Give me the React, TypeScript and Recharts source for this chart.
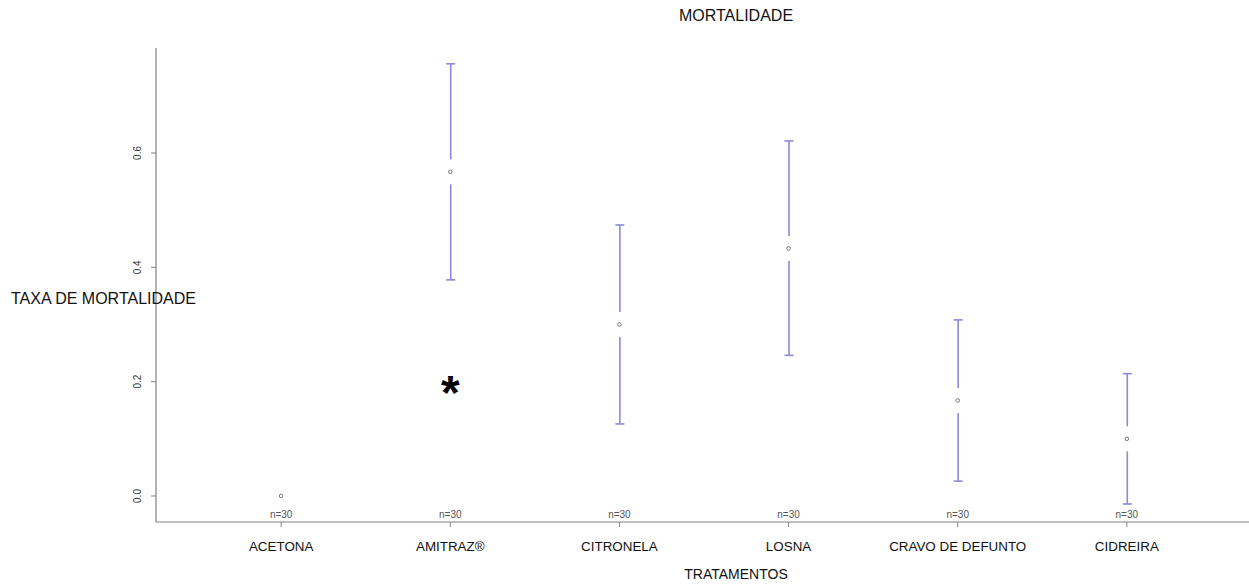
import React from 'react';
import {
  ComposedChart,
  Bar,
  Scatter,
  XAxis,
  YAxis,
  ReferenceDot,
} from 'recharts';

// tratamentos e taxa de mortalidade (média e IC 95%)
const treatments = ['ACETONA', 'AMITRAZ®', 'CITRONELA', 'LOSNA', 'CRAVO DE DEFUNTO', 'CIDREIRA'];
const means = [0, 0.567, 0.3, 0.433, 0.167, 0.1];
const lowerCI = [null, 0.378, 0.126, 0.246, 0.026, -0.014];
const upperCI = [null, 0.756, 0.474, 0.621, 0.308, 0.214];
const sampleSizes = [30, 30, 30, 30, 30, 30];
const yTicks = [0, 0.2, 0.4, 0.6];

const FONT = '"Liberation Sans", Arial, sans-serif';
const CI_COLOR = '#8a8ad8';
const AXIS_COLOR = '#808080';

const data = treatments.map((name, i) => ({
  pos: i + 1,
  name,
  mean: means[i],
  low: lowerCI[i],
  high: upperCI[i],
  n: sampleSizes[i],
  ci: lowerCI[i] == null ? null : [lowerCI[i], upperCI[i]],
}));

function CIShape(props: any) {
  const { x, y, width, height, payload } = props;
  if (!payload || payload.low == null || !height) return null;
  const cx = x + width / 2;
  const top = y;
  const bottom = y + height;
  const my = y + ((payload.high - payload.mean) / (payload.high - payload.low)) * height;
  const gap = 12.5;
  const cap = 4.5;
  return (
    <g stroke={CI_COLOR} strokeWidth={1.6} fill="none">
      <line x1={cx} y1={top} x2={cx} y2={my - gap} />
      <line x1={cx} y1={my + gap} x2={cx} y2={bottom} />
      <line x1={cx - cap} y1={top} x2={cx + cap} y2={top} />
      <line x1={cx - cap} y1={bottom} x2={cx + cap} y2={bottom} />
    </g>
  );
}

function MeanDot(props: any) {
  const { cx, cy } = props;
  return <circle cx={cx} cy={cy} r={1.8} fill="none" stroke="#777" strokeWidth={1} />;
}

function XTick(props: any) {
  const { x, y, payload } = props;
  const i = payload.value - 1;
  return (
    <g>
      <text x={x} y={y - 11} textAnchor="middle" fontSize={10} fill="#555" fontFamily={FONT}>
        n={sampleSizes[i]}
      </text>
      <text x={x} y={y + 22} textAnchor="middle" fontSize={13.4} fill="#111" fontFamily={FONT}>
        {treatments[i]}
      </text>
    </g>
  );
}

function YTick(props: any) {
  const { x, y, payload } = props;
  const tx = x - 6;
  return (
    <text
      x={tx}
      y={y}
      transform={`rotate(-90 ${tx} ${y})`}
      textAnchor="middle"
      fontSize={10}
      fill="#333"
      fontFamily={FONT}
    >
      {payload.value.toFixed(1)}
    </text>
  );
}

export default function App() {
  return (
    <div
      style={{
        position: 'fixed',
        left: 0,
        top: 0,
        width: 1249,
        height: 585,
        overflow: 'hidden',
        background: '#fff',
        fontFamily: FONT,
      }}
    >
      <div style={{ position: 'absolute', left: 0, top: 0 }}>
        <ComposedChart
          width={1300}
          height={585}
          data={data}
          margin={{ top: 48, right: 48, bottom: 0, left: 116 }}
        >
          <XAxis
            xAxisId="top"
            orientation="top"
            dataKey="pos"
            type="number"
            domain={[0.26, 6.74]}
            allowDataOverflow
            height={0}
            tick={false}
            tickLine={false}
            axisLine={{ stroke: '#999', strokeWidth: 1.5 }}
          />
          <XAxis
            dataKey="pos"
            type="number"
            domain={[0.26, 6.74]}
            allowDataOverflow
            ticks={[1, 2, 3, 4, 5, 6]}
            interval={0}
            tick={<XTick />}
            tickSize={5}
            tickMargin={2}
            height={63}
            axisLine={{ stroke: AXIS_COLOR, strokeWidth: 1.2 }}
            tickLine={{ stroke: AXIS_COLOR }}
          />
          <YAxis
            type="number"
            domain={[-0.0455, 0.7836]}
            allowDataOverflow
            ticks={yTicks}
            width={40}
            tick={<YTick />}
            tickSize={5}
            tickMargin={4}
            axisLine={{ stroke: AXIS_COLOR, strokeWidth: 1.2 }}
            tickLine={{ stroke: AXIS_COLOR }}
          />
          <Bar dataKey="ci" barSize={10} shape={<CIShape />} isAnimationActive={false} />
          <Scatter dataKey="mean" shape={<MeanDot />} isAnimationActive={false} />
          <ReferenceDot
            x={2}
            y={0.194}
            r={0}
            shape={(p: any) => (
              <text
                x={p.cx}
                y={p.cy + 24}
                textAnchor="middle"
                fontSize={48}
                fontWeight="bold"
                fill="#000"
                fontFamily={FONT}
              >
                *
              </text>
            )}
          />
        </ComposedChart>
      </div>
      <div
        style={{
          position: 'absolute',
          left: 0,
          width: 1472,
          top: 7,
          textAlign: 'center',
          fontSize: 16,
          color: '#111',
        }}
      >
        MORTALIDADE
      </div>
      <div style={{ position: 'absolute', left: 11, top: 290, fontSize: 16, color: '#111', whiteSpace: 'nowrap' }}>
        TAXA DE MORTALIDADE
      </div>
      <div
        style={{
          position: 'absolute',
          left: 0,
          width: 1472,
          top: 566,
          textAlign: 'center',
          fontSize: 14,
          color: '#111',
        }}
      >
        TRATAMENTOS
      </div>
    </div>
  );
}
